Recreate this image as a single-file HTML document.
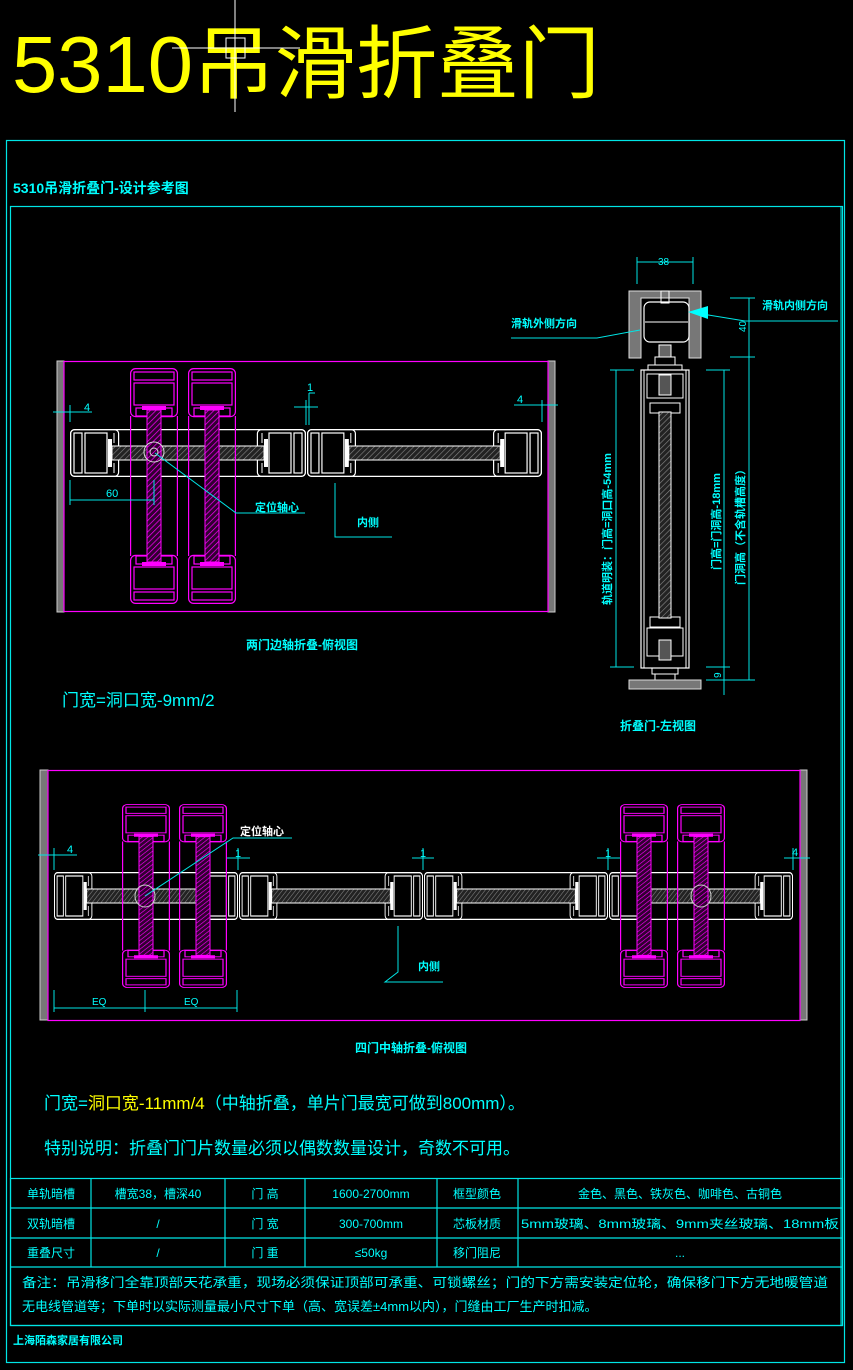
<!DOCTYPE html>
<html><head><meta charset="utf-8"><style>
html,body{margin:0;padding:0;background:#000;}
svg{display:block;}
text{font-family:"Liberation Sans","Noto Sans CJK SC",sans-serif;}
.c{fill:#00ffff;}
</style></head><body>
<svg width="853" height="1370" viewBox="0 0 853 1370" xmlns="http://www.w3.org/2000/svg">
<defs>
<pattern id="hw" width="4" height="4" patternUnits="userSpaceOnUse" patternTransform="rotate(45)"><rect width="4" height="4" fill="#222"/><line x1="0" y1="0" x2="0" y2="4" stroke="#888" stroke-width="1.2"/></pattern>
<pattern id="hm" width="4" height="4" patternUnits="userSpaceOnUse" patternTransform="rotate(45)"><rect width="4" height="4" fill="#300030"/><line x1="0" y1="0" x2="0" y2="4" stroke="#ff00ff" stroke-width="1.4"/></pattern>
<symbol id="hl" viewBox="0 0 236 48" preserveAspectRatio="none">
<g fill="none" stroke="#fff" stroke-width="1.2">
<rect x="0.6" y="0.6" width="234.8" height="46.8" rx="4"/>
<rect x="0.6" y="0.6" width="48" height="46.8" rx="4"/>
<rect x="187.4" y="0.6" width="48" height="46.8" rx="4"/>
<rect x="4" y="4" width="8" height="40"/><rect x="15" y="4" width="22" height="40"/>
<rect x="224" y="4" width="8" height="40"/><rect x="199" y="4" width="22" height="40"/>
</g>
<rect x="42" y="17" width="152" height="14" fill="url(#hw)" stroke="#fff" stroke-width="1"/>
<rect x="38" y="10" width="4" height="28" fill="#fff"/><rect x="194" y="10" width="4" height="28" fill="#fff"/>
<g stroke="#fff" stroke-width="1"><line x1="44" y1="4" x2="44" y2="14"/><line x1="44" y1="34" x2="44" y2="44"/><line x1="192" y1="4" x2="192" y2="14"/><line x1="192" y1="34" x2="192" y2="44"/></g>
</symbol>
<symbol id="vl" viewBox="0 0 48 236" preserveAspectRatio="none">
<g fill="none" stroke="#ff00ff" stroke-width="1.2">
<rect x="0.6" y="0.6" width="46.8" height="48" rx="5"/>
<rect x="0.6" y="187.4" width="46.8" height="48" rx="5"/>
<line x1="0.6" y1="48" x2="0.6" y2="188"/><line x1="47.4" y1="48" x2="47.4" y2="188"/>
<rect x="4" y="4" width="40" height="8"/><rect x="4" y="15" width="40" height="22"/>
<rect x="4" y="224" width="40" height="8"/><rect x="4" y="199" width="40" height="22"/>
<rect x="6" y="40" width="36" height="8"/><rect x="6" y="188" width="36" height="8"/>
</g>
<rect x="17" y="42" width="14" height="152" fill="url(#hm)" stroke="#ff00ff" stroke-width="1"/>
<rect x="12" y="38" width="24" height="4" fill="#ff00ff"/><rect x="12" y="194" width="24" height="4" fill="#ff00ff"/>
</symbol>
</defs>

<!-- Title -->
<text x="12" y="92" font-size="80" fill="#ffff00" textLength="588" lengthAdjust="spacingAndGlyphs">5310吊滑折叠门</text>
<g stroke="#fff" stroke-width="1" fill="none"><line x1="235" y1="0" x2="235" y2="112"/><line x1="172" y1="48" x2="300" y2="48"/><rect x="226" y="38" width="19" height="20"/></g>

<!-- frames -->
<g fill="none" stroke="#00e5e5" stroke-width="1.2">
<rect x="6.5" y="140.5" width="838" height="1222"/>
<rect x="10.5" y="206.5" width="832" height="1119"/>
</g>
<text x="13" y="193" font-size="14" font-weight="bold" class="c">5310吊滑折叠门-设计参考图</text>

<!-- Top-down view 1 -->
<rect x="57" y="361" width="7" height="251" fill="#777" stroke="#ccc" stroke-width="1"/>
<rect x="548" y="361" width="7" height="251" fill="#777" stroke="#ccc" stroke-width="1"/>
<rect x="64" y="361.5" width="484" height="250" fill="none" stroke="#ff00ff" stroke-width="1.2"/>
<use href="#hl" x="70" y="429" width="236" height="48"/>
<use href="#hl" x="307" y="429" width="235" height="48"/>
<use href="#vl" x="130" y="368" width="48" height="236"/>
<use href="#vl" x="188" y="368" width="48" height="236"/>
<circle cx="154" cy="452" r="10" fill="none" stroke="#ddd" stroke-width="1"/>
<circle cx="154" cy="452" r="4" fill="none" stroke="#ddd" stroke-width="1"/>
<g stroke="#00e5e5" stroke-width="1" fill="none">
<polyline points="155,453 236,513 305,513"/>
<polyline points="335,483 335,537 392,537"/>
<line x1="70" y1="480" x2="70" y2="505"/><line x1="154" y1="480" x2="154" y2="505"/><line x1="70" y1="500" x2="154" y2="500"/>
<line x1="53" y1="412" x2="92" y2="412"/><line x1="70" y1="405" x2="70" y2="422"/>
<line x1="514" y1="405" x2="558" y2="405"/><line x1="542" y1="400" x2="542" y2="422"/>
<line x1="294" y1="407" x2="318" y2="407"/><line x1="306" y1="400" x2="306" y2="425"/><line x1="309" y1="393" x2="309" y2="425"/><line x1="309" y1="393" x2="315" y2="393"/>
</g>
<text x="84" y="411" font-size="11" class="c">4</text>
<text x="517" y="403" font-size="11" class="c">4</text>
<text x="307" y="391" font-size="11" class="c">1</text>
<text x="106" y="497" font-size="11" class="c">60</text>
<text x="255" y="511" font-size="11" font-weight="bold" class="c">定位轴心</text>
<text x="357" y="526" font-size="11" font-weight="bold" class="c">内侧</text>
<text x="246" y="649" font-size="12" font-weight="bold" class="c">两门边轴折叠-俯视图</text>
<text x="62" y="706" font-size="17" class="c">门宽=洞口宽-9mm/2</text>

<!-- Left view -->
<path d="M629,291 H701 V358 H689 V298 H641 V358 H629 Z" fill="#777" stroke="#ddd" stroke-width="1"/>
<rect x="644" y="302" width="45" height="40" rx="6" fill="none" stroke="#fff" stroke-width="1.2"/>
<line x1="645" y1="322" x2="688" y2="322" stroke="#fff"/>
<rect x="661" y="291" width="8" height="12" fill="none" stroke="#fff"/>
<rect x="659" y="345" width="12" height="12" fill="#666" stroke="#fff"/>
<rect x="655" y="357" width="20" height="8" fill="none" stroke="#fff"/>
<rect x="648" y="365" width="34" height="5" fill="none" stroke="#fff"/>
<rect x="641" y="370" width="48" height="298" fill="none" stroke="#fff" stroke-width="1.2"/>
<line x1="644" y1="370" x2="644" y2="668" stroke="#fff"/><line x1="686" y1="370" x2="686" y2="668" stroke="#fff"/>
<rect x="647" y="374" width="36" height="24" fill="none" stroke="#fff"/>
<rect x="647" y="628" width="36" height="28" fill="none" stroke="#fff"/>
<rect x="659" y="375" width="12" height="20" fill="#555" stroke="#fff"/>
<rect x="659" y="640" width="12" height="20" fill="#555" stroke="#fff"/>
<rect x="650" y="403" width="30" height="10" fill="none" stroke="#fff"/>
<rect x="650" y="617" width="30" height="10" fill="none" stroke="#fff"/>
<rect x="659" y="412" width="12" height="206" fill="url(#hw)" stroke="#fff"/>
<rect x="652" y="668" width="26" height="6" fill="none" stroke="#fff"/>
<rect x="655" y="674" width="20" height="6" fill="none" stroke="#fff"/>
<rect x="629" y="680" width="72" height="9" fill="#777" stroke="#ddd"/>
<g stroke="#00e5e5" stroke-width="1" fill="none">
<line x1="637" y1="262" x2="693" y2="262"/><line x1="637" y1="257" x2="637" y2="284"/><line x1="693" y1="257" x2="693" y2="284"/>
<line x1="610" y1="370" x2="634" y2="370"/><line x1="610" y1="667" x2="634" y2="667"/><line x1="616" y1="370" x2="616" y2="667"/>
<line x1="706" y1="370" x2="730" y2="370"/><line x1="706" y1="667" x2="730" y2="667"/><line x1="724" y1="370" x2="724" y2="695"/>
<line x1="730" y1="298" x2="755" y2="298"/><line x1="730" y1="357" x2="755" y2="357"/><line x1="749" y1="298" x2="749" y2="680"/>
<line x1="706" y1="680" x2="755" y2="680"/>
<polyline points="511,338 597,338 640,330"/>
<polyline points="838,321 745,321 690,312"/>
<line x1="841" y1="206" x2="841" y2="1326"/>
</g>
<polygon points="688,312 708,306 708,319" fill="#00ffff"/>
<text x="658" y="265" font-size="10" class="c">38</text>
<text x="511" y="327" font-size="11" font-weight="bold" class="c">滑轨外侧方向</text>
<text x="762" y="309" font-size="11" font-weight="bold" class="c">滑轨内侧方向</text>
<text transform="translate(746,332) rotate(-90)" font-size="10" class="c">40</text>
<text transform="translate(721,678) rotate(-90)" font-size="10" class="c">9</text>
<text transform="translate(611,605) rotate(-90)" font-size="11" font-weight="bold" class="c">轨道明装：门高=洞口高-54mm</text>
<text transform="translate(720,570) rotate(-90)" font-size="11" font-weight="bold" class="c">门高=门洞高-18mm</text>
<text transform="translate(744,585) rotate(-90)" font-size="11" font-weight="bold" class="c">门洞高（不含轨槽高度）</text>
<text x="620" y="730" font-size="12" font-weight="bold" class="c">折叠门-左视图</text>

<!-- Top-down view 2 -->
<rect x="40" y="770" width="8" height="250" fill="#777" stroke="#ccc"/>
<rect x="800" y="770" width="7" height="250" fill="#777" stroke="#ccc"/>
<rect x="48" y="770.5" width="752" height="250" fill="none" stroke="#ff00ff" stroke-width="1.2"/>
<use href="#hl" x="54" y="872" width="184" height="48"/>
<use href="#hl" x="239" y="872" width="184" height="48"/>
<use href="#hl" x="424" y="872" width="184" height="48"/>
<use href="#hl" x="609" y="872" width="184" height="48"/>
<use href="#vl" x="122" y="804" width="48" height="184"/>
<use href="#vl" x="179" y="804" width="48" height="184"/>
<use href="#vl" x="620" y="804" width="48" height="184"/>
<use href="#vl" x="677" y="804" width="48" height="184"/>
<ellipse cx="145" cy="896" rx="10" ry="11" fill="none" stroke="#ccc"/>
<ellipse cx="701" cy="896" rx="10" ry="11" fill="none" stroke="#ccc"/>
<g stroke="#00e5e5" stroke-width="1" fill="none">
<polyline points="145,896 233,838 292,838"/>
<polyline points="398,926 398,972 385,982 443,982"/>
<line x1="54" y1="990" x2="54" y2="1012"/><line x1="145" y1="990" x2="145" y2="1012"/><line x1="237" y1="990" x2="237" y2="1012"/>
<line x1="54" y1="1008" x2="237" y2="1008"/>
<line x1="38" y1="855" x2="77" y2="855"/><line x1="54" y1="848" x2="54" y2="870"/>
<line x1="784" y1="858" x2="810" y2="858"/><line x1="793" y1="848" x2="793" y2="870"/>
<line x1="227" y1="858" x2="250" y2="858"/><line x1="238" y1="848" x2="238" y2="870"/>
<line x1="412" y1="858" x2="434" y2="858"/><line x1="423" y1="848" x2="423" y2="870"/>
<line x1="597" y1="858" x2="620" y2="858"/><line x1="608" y1="848" x2="608" y2="870"/>
</g>
<text x="67" y="853" font-size="11" class="c">4</text>
<text x="792" y="856" font-size="11" class="c">4</text>
<text x="235" y="857" font-size="11" class="c">1</text>
<text x="420" y="857" font-size="11" class="c">1</text>
<text x="605" y="857" font-size="11" class="c">1</text>
<text x="240" y="835" font-size="11" font-weight="bold" fill="#fff">定位轴心</text>
<text x="418" y="970" font-size="11" font-weight="bold" class="c">内侧</text>
<text x="92" y="1005" font-size="10" class="c">EQ</text>
<text x="184" y="1005" font-size="10" class="c">EQ</text>
<text x="355" y="1052" font-size="12" font-weight="bold" class="c">四门中轴折叠-俯视图</text>
<text x="44" y="1109" font-size="17"><tspan class="c">门宽=</tspan><tspan fill="#ffff00">洞口宽-11mm/4</tspan><tspan class="c">（中轴折叠，单片门最宽可做到800mm）。</tspan></text>
<text x="44" y="1154" font-size="17" class="c">特别说明：折叠门门片数量必须以偶数数量设计，奇数不可用。</text>

<!-- table -->
<g stroke="#00e5e5" stroke-width="1.2" fill="none">
<rect x="10.5" y="1178.5" width="832" height="147"/>
<line x1="10" y1="1208" x2="843" y2="1208"/><line x1="10" y1="1238" x2="843" y2="1238"/><line x1="10" y1="1267" x2="843" y2="1267"/>
<line x1="91" y1="1178" x2="91" y2="1267"/><line x1="225" y1="1178" x2="225" y2="1267"/><line x1="305" y1="1178" x2="305" y2="1267"/><line x1="437" y1="1178" x2="437" y2="1267"/><line x1="518" y1="1178" x2="518" y2="1267"/>
</g>
<g font-size="12" class="c" text-anchor="middle">
<text x="51" y="1198">单轨暗槽</text><text x="158" y="1198">槽宽38，槽深40</text><text x="265" y="1198">门 高</text><text x="371" y="1198">1600-2700mm</text><text x="477" y="1198">框型颜色</text><text x="680" y="1198">金色、黑色、铁灰色、咖啡色、古铜色</text>
<text x="51" y="1228">双轨暗槽</text><text x="158" y="1228">/</text><text x="265" y="1228">门 宽</text><text x="371" y="1228">300-700mm</text><text x="477" y="1228">芯板材质</text><text x="680" y="1228" textLength="318" lengthAdjust="spacingAndGlyphs">5mm玻璃、8mm玻璃、9mm夹丝玻璃、18mm板</text>
<text x="51" y="1257">重叠尺寸</text><text x="158" y="1257">/</text><text x="265" y="1257">门 重</text><text x="371" y="1257">≤50kg</text><text x="477" y="1257">移门阻尼</text><text x="680" y="1257">...</text>
</g>
<text x="22" y="1287" font-size="13" class="c" textLength="806" lengthAdjust="spacingAndGlyphs">备注：吊滑移门全靠顶部天花承重，现场必须保证顶部可承重、可锁螺丝；门的下方需安装定位轮，确保移门下方无地暖管道</text>
<text x="22" y="1311" font-size="13" class="c">无电线管道等；下单时以实际测量最小尺寸下单（高、宽误差±4mm以内），门缝由工厂生产时扣减。</text>
<text x="13" y="1344" font-size="11" font-weight="bold" class="c">上海陌森家居有限公司</text>
</svg>
</body></html>
